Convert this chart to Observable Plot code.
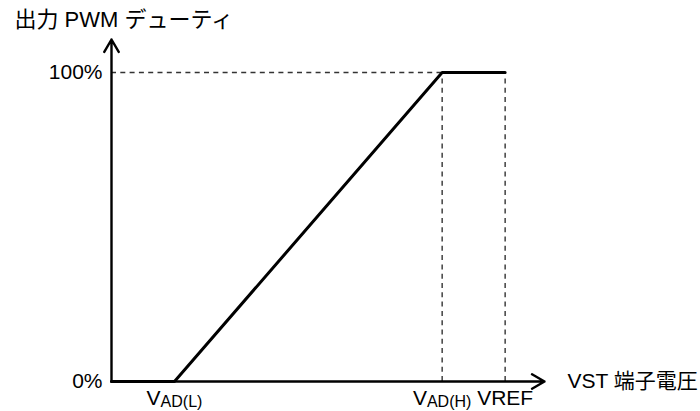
<!DOCTYPE html>
<html>
<head>
<meta charset="utf-8">
<script src="https://cdn.jsdelivr.net/npm/d3@7"></script>
<script src="https://cdn.jsdelivr.net/npm/@observablehq/plot@0.6"></script>
<style>
  html, body { margin: 0; padding: 0; background: #fff; }
</style>
</head>
<body>
<div id="chart"></div>
<script>
// --- data ---
const yTitle = "出力 PWM デューティ";
const xTitle = "VST 端子電圧";

// x positions (voltage, arbitrary units)
const vadL = 0.8;
const vadH = 4.2;
const vref = 5.0;
const xAxisEnd = 5.5;   // arrow tip of x axis
const yAxisEnd = 110.7; // arrow tip of y axis (%)

// characteristic curve
const curveX = [0, vadL, vadH, vref];
const curveDuty = [0, 0, 100, 100];

// ticks
const yTicks = [0, 100];
const yTickLabels = ["0%", "100%"];
const xTicks = [vadL, vadH, vref];
const xTickLabels = ["VAD(L)", "VAD(H)", "VREF"];

// dashed guides
const guideDuty = 100;
const guideX = [vadH, vref];

// --- tables built from the arrays ---
const curve = curveX.map((x, i) => ({x, y: curveDuty[i]}));
const axes = [
  {x1: 0, y1: 0, x2: 0, y2: yAxisEnd},
  {x1: 0, y1: 0, x2: xAxisEnd, y2: 0}
];
const yLabelOf = new Map(yTicks.map((t, i) => [t, yTickLabels[i]]));
const xLabelOf = new Map(xTicks.map((t, i) => [t, xTickLabels[i]]));

const font = "'Liberation Sans', Arial, 'Noto Sans CJK JP', sans-serif";

const chart = Plot.plot({
  width: 700,
  height: 411,
  marginLeft: 111,
  marginRight: 156,
  marginTop: 39,
  marginBottom: 30,
  style: {fontFamily: font, fontSize: "21px", background: "#fff", color: "#000", overflow: "visible"},
  x: {domain: [0, xAxisEnd], axis: null},
  y: {domain: [0, yAxisEnd], axis: null},
  marks: [
    // dashed guides
    Plot.ruleY([guideDuty], {x1: 0, x2: vadH, stroke: "#333", strokeWidth: 1.4, strokeDasharray: "5,4.3"}),
    Plot.ruleX(guideX, {y1: 0, y2: guideDuty, stroke: "#333", strokeWidth: 1.4, strokeDasharray: "5,4.3"}),
    // axes with arrow heads
    Plot.arrow(axes, {x1: "x1", y1: "y1", x2: "x2", y2: "y2", stroke: "#000", strokeWidth: 2.4, headLength: 9, headAngle: 60}),
    // characteristic line
    Plot.line(curve, {x: "x", y: "y", stroke: "#000", strokeWidth: 3, strokeLinejoin: "miter"}),
    // tick labels
    Plot.axisY({ticks: yTicks, tickFormat: d => yLabelOf.get(d), tickSize: 0, tickPadding: 9, label: null, fontSize: 21}),
    Plot.axisX({ticks: xTicks, tickFormat: d => xLabelOf.get(d), tickSize: 0, tickPadding: 9, label: null, fontSize: 21}),
    // axis titles
    Plot.text([yTitle], {frameAnchor: "top-left", dx: -97, dy: -20, textAnchor: "start", lineAnchor: "middle", fontSize: 22, fill: "#000"}),
    Plot.text([xTitle], {frameAnchor: "bottom-right", dx: 23, textAnchor: "start", lineAnchor: "middle", fontSize: 21, fill: "#000"})
  ]
});

// subscripts for V_AD(L), V_AD(H)
d3.select(chart).selectAll('g[aria-label="x-axis tick label"] text').each(function() {
  const t = this.textContent;
  const m = /^V(AD\(.\))$/.exec(t);
  if (m) {
    const sel = d3.select(this);
    sel.text("V");
    sel.append("tspan").attr("font-size", 16).attr("dy", 2).text(m[1]);
  }
});

document.getElementById("chart").appendChild(chart);
</script>
</body>
</html>
